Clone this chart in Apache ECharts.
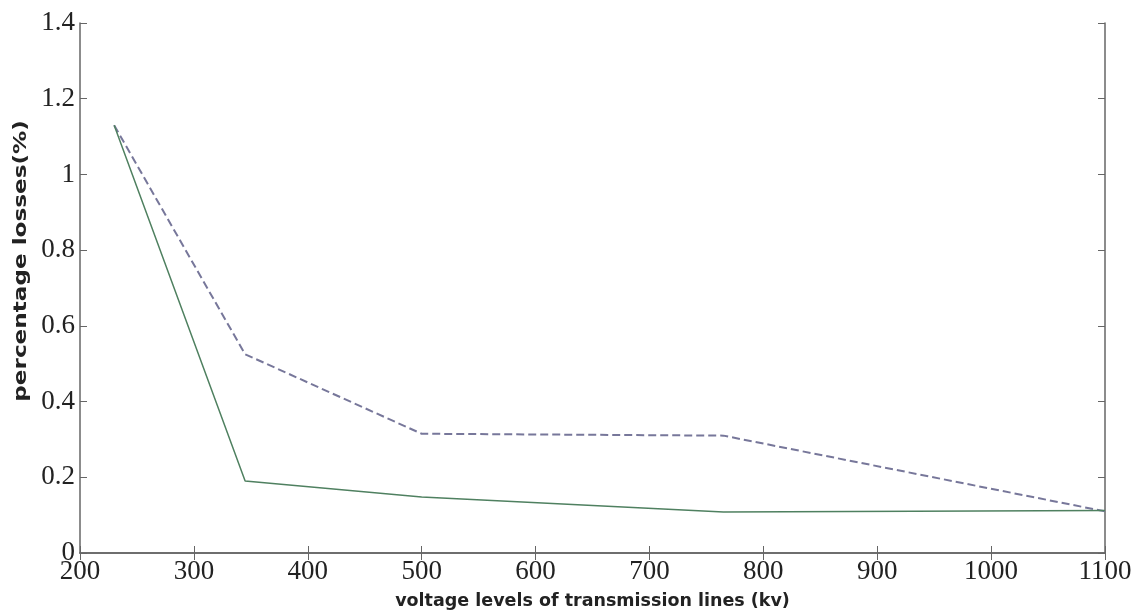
<!DOCTYPE html>
<html><head><meta charset="utf-8">
<script src="https://cdn.jsdelivr.net/npm/echarts@6/dist/echarts.min.js"></script>
<style>html,body{margin:0;padding:0;background:#fff}#c{width:1140px;height:615px}</style>
</head><body><div id="c"></div>
<script>
var voltages = [230, 345, 500, 765, 1100];
var dashedLosses = [1.13, 0.525, 0.315, 0.31, 0.11];
var solidLosses = [1.13, 0.19, 0.148, 0.108, 0.112];
var xTicks = [200, 300, 400, 500, 600, 700, 800, 900, 1000, 1100];
var yTicks = [0, 0.2, 0.4, 0.6, 0.8, 1, 1.2, 1.4];
var xTitle = 'voltage levels of transmission lines (kv)';
var yTitle = 'percentage losses(%)';

var axisColor = '#666';
var tickFont = {fontFamily: 'Liberation Serif', fontSize: 27, color: '#222'};
function pair(xs, ys){ return xs.map(function(x,i){return [x, ys[i]];}); }

var chart = echarts.init(document.getElementById('c'));
chart.setOption({
  animation: false,
  backgroundColor: '#fff',
  grid: {left: 80, right: 35, top: 23, bottom: 61},
  graphic: [{
    type: 'text', x: 22, y: 261, rotation: Math.PI / 2, scaleX: 1.36,
    style: {text: yTitle, font: 'bold 17px "DejaVu Sans"', fill: '#222', align: 'center', verticalAlign: 'middle'}
  }],
  xAxis: [{
    type: 'value', min: 200, max: 1100, interval: 100,
    name: xTitle, nameLocation: 'middle', nameGap: 39,
    nameTextStyle: {fontFamily: 'DejaVu Sans', fontWeight: 'bold', fontSize: 17.5, color: '#222'},
    axisLine: {lineStyle: {color: axisColor, width: 1.5}},
    axisTick: {inside: true, length: 7, lineStyle: {color: axisColor}},
    axisLabel: Object.assign({margin: 5, formatter: function(v){ return xTicks.indexOf(v) >= 0 ? String(v) : ''; }}, tickFont),
    splitLine: {show: false}
  }, {
    type: 'value', position: 'top', min: 200, max: 1100, interval: 100,
    axisLine: {lineStyle: {color: axisColor, width: 1.5}},
    axisTick: {inside: true, length: 7, lineStyle: {color: axisColor}},
    axisLabel: {show: false}, splitLine: {show: false}
  }],
  yAxis: [{
    type: 'value', min: 0, max: 1.4, interval: 0.2,
    axisLine: {show: true, lineStyle: {color: axisColor, width: 1.5}},
    axisTick: {show: true, inside: true, length: 7, lineStyle: {color: axisColor}},
    axisLabel: Object.assign({margin: 5, formatter: function(v){
      var r = Math.round(v * 10) / 10;
      return yTicks.indexOf(r) >= 0 ? String(r) : '';
    }}, tickFont),
    splitLine: {show: false}
  }, {
    type: 'value', position: 'right', min: 0, max: 1.4, interval: 0.2,
    axisLine: {show: true, lineStyle: {color: axisColor, width: 1.5}},
    axisTick: {show: true, inside: true, length: 7, lineStyle: {color: axisColor}},
    axisLabel: {show: false}, splitLine: {show: false}
  }],
  series: [{
    type: 'line', name: 'dashed', data: pair(voltages, dashedLosses),
    showSymbol: false, symbol: 'none',
    lineStyle: {color: '#77779a', width: 2, type: [8, 4]}
  }, {
    type: 'line', name: 'solid', data: pair(voltages, solidLosses),
    showSymbol: false, symbol: 'none',
    lineStyle: {color: '#4f8060', width: 1.5}
  }]
});
</script></body></html>
